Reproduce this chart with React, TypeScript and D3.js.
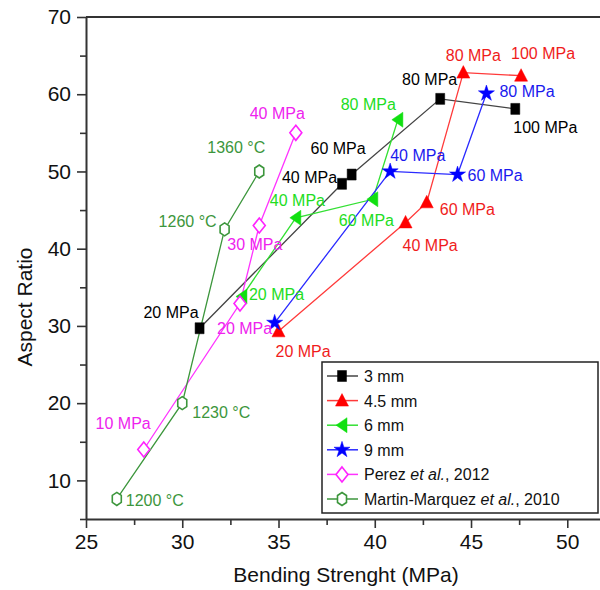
import React, { useEffect, useRef } from "react";
import * as d3 from "d3";

// values
const pressures = ["20 MPa", "40 MPa", "60 MPa", "80 MPa", "100 MPa"];

const bend3mm = [30.9, 38.3, 38.8, 43.4, 47.3];
const ratio3mm = [29.7, 48.4, 49.6, 59.4, 58.1];

const bend45mm = [35.0, 41.6, 42.7, 44.6, 47.6];
const ratio45mm = [29.3, 43.4, 46.0, 62.8, 62.4];

const bend6mm = [33.1, 35.9, 39.9, 41.2];
const ratio6mm = [33.8, 44.0, 46.4, 56.7];

const bend9mm = [34.8, 40.8, 44.3, 45.8];
const ratio9mm = [30.4, 50.0, 49.6, 60.1];
const labels9mm = ["", "40 MPa", "60 MPa", "80 MPa"];

const bendPerez = [28.0, 33.0, 34.0, 35.9];
const ratioPerez = [14.0, 32.9, 43.0, 55.0];
const labelsPerez = ["10 MPa", "20 MPa", "30 MPa", "40 MPa"];

const bendMartin = [26.6, 30.0, 32.2, 34.0];
const ratioMartin = [7.6, 20.0, 42.5, 50.0];
const labelsMartin = ["1200 °C", "1230 °C", "1260 °C", "1360 °C"];

const xTicks = [25, 30, 35, 40, 45, 50];
const xMinor = [27.5, 32.5, 37.5, 42.5, 47.5];
const yTicks = [10, 20, 30, 40, 50, 60, 70];
const yMinor = [5, 15, 25, 35, 45, 55, 65];

// label placement next to each point: [dx, dy, anchor]
const offs3mm = [[-1, -10, "end"], [-5, -1, "end"], [14, -21, "end"], [17, -14, "end"], [-2, 24, "start"]];
const offs45mm = [[-3, 26, "start"], [-3, 29, "start"], [13, 13, "start"], [10, -12, "middle"], [22, -17, "middle"]];
const offs6mm = [[7, 3, "start"], [-26, -12, "start"], [-34, 27, "start"], [-2, -10, "end"]];
const offs9mm = [[0, 0, "start"], [0, -10, "start"], [10, 6, "start"], [13, 4, "start"]];
const offsPerez = [[7, -20, "end"], [-23, 30, "start"], [-32, 24, "start"], [9, -14, "end"]];
const offsMartin = [[9, 7, "start"], [10, 15, "start"], [-8, -2, "end"], [6, -18, "end"]];

const FONT = "'Liberation Sans', Arial, Helvetica, sans-serif";

function markerPath(shape: string): string {
  if (shape === "square") return "M-4.5,-5.5H4.5V5.5H-4.5Z";
  if (shape === "triUp") return "M0,-7L6.5,5.5L-6.5,5.5Z";
  if (shape === "triLeft") return "M-6,0L5,-7.5L5,7.5Z";
  if (shape === "star") return d3.symbol(d3.symbolStar, 80)() as string;
  if (shape === "diamond") return "M0,-7.5L6,0L0,7.5L-6,0Z";
  return "M0,-6.5L4.5,-3.5L4.5,3.5L0,6.5L-4.5,3.5L-4.5,-3.5Z";
}

const series = [
  { name: "3 mm", xs: bend3mm, ys: ratio3mm, labels: pressures, offs: offs3mm, line: "#444", fill: "#000", stroke: "#000", text: "#000", shape: "square", hollow: false },
  { name: "4.5 mm", xs: bend45mm, ys: ratio45mm, labels: pressures, offs: offs45mm, line: "#ff3a3a", fill: "#ff0000", stroke: "#ff0000", text: "#f01c1c", shape: "triUp", hollow: false },
  { name: "6 mm", xs: bend6mm, ys: ratio6mm, labels: pressures, offs: offs6mm, line: "#33e033", fill: "#11e011", stroke: "#11e011", text: "#22dd22", shape: "triLeft", hollow: false },
  { name: "9 mm", xs: bend9mm, ys: ratio9mm, labels: labels9mm, offs: offs9mm, line: "#2a2aff", fill: "#0000ff", stroke: "#0000ff", text: "#1a1aee", shape: "star", hollow: false },
  { name: "Perez", xs: bendPerez, ys: ratioPerez, labels: labelsPerez, offs: offsPerez, line: "#ff33ff", fill: "#fff", stroke: "#ff22ff", text: "#ee22ee", shape: "diamond", hollow: true },
  { name: "Martin", xs: bendMartin, ys: ratioMartin, labels: labelsMartin, offs: offsMartin, line: "#3c963c", fill: "#fff", stroke: "#3c963c", text: "#3c963c", shape: "hex", hollow: true },
];

export default function App() {
  const ref = useRef<SVGSVGElement>(null);

  useEffect(() => {
    const width = 600;
    const height = 590;
    const left = 86;
    const top = 17;
    const bottom = 519;

    const svg = d3.select(ref.current);
    svg.selectAll("*").remove();
    svg.attr("width", width).attr("height", height);

    const x = d3.scaleLinear().domain([25, 51.7]).range([left, width]);
    const y = d3.scaleLinear().domain([5, 70]).range([bottom, top]);

    const axisColor = "#333";

    // top frame line
    svg.append("line")
      .attr("x1", left).attr("x2", width)
      .attr("y1", top).attr("y2", top)
      .attr("stroke", axisColor).attr("stroke-width", 2);

    // x axis
    const gx = svg.append("g").attr("transform", `translate(0,${bottom})`);
    gx.call(d3.axisBottom(x).tickValues(xTicks).tickSize(9).tickSizeOuter(0).tickPadding(6));
    gx.append("g").call(d3.axisBottom(x).tickValues(xMinor).tickSize(6).tickFormat(() => ""))
      .select(".domain").remove();

    // y axis
    const gy = svg.append("g").attr("transform", `translate(${left},0)`);
    gy.call(d3.axisLeft(y).tickValues(yTicks).tickSize(9).tickSizeOuter(0).tickPadding(6));
    gy.append("g").call(d3.axisLeft(y).tickValues(yMinor).tickSize(6).tickFormat(() => ""))
      .select(".domain").remove();

    svg.selectAll(".domain").attr("stroke", axisColor).attr("stroke-width", 2);
    svg.selectAll(".tick line").attr("stroke", axisColor).attr("stroke-width", 1.6);
    svg.selectAll(".tick text").attr("font-family", FONT).attr("font-size", 21).attr("fill", "#111");
    gx.selectAll(".tick text").attr("dy", "0.72em");

    // axis titles
    svg.append("text")
      .attr("x", 346).attr("y", 582)
      .attr("text-anchor", "middle")
      .attr("font-family", FONT).attr("font-size", 21).attr("fill", "#111")
      .text("Bending Strenght (MPa)");

    svg.append("text")
      .attr("transform", "translate(32,307) rotate(-90)")
      .attr("text-anchor", "middle")
      .attr("font-family", FONT).attr("font-size", 21).attr("fill", "#111")
      .text("Aspect Ratio");

    // connecting lines
    series.forEach(s => {
      const pts = s.xs.map((v, i) => [x(v), y(s.ys[i])] as [number, number]);
      svg.append("path")
        .attr("d", d3.line()(pts))
        .attr("fill", "none")
        .attr("stroke", s.line)
        .attr("stroke-width", 1.3);
    });

    // markers + point labels
    series.forEach(s => {
      s.xs.forEach((v, i) => {
        const px = x(v);
        const py = y(s.ys[i]);
        svg.append("path")
          .attr("d", markerPath(s.shape))
          .attr("transform", `translate(${px},${py})`)
          .attr("fill", s.hollow ? "#fff" : s.fill)
          .attr("stroke", s.stroke)
          .attr("stroke-width", s.hollow ? 1.6 : 0.5);

        if (s.labels[i]) {
          const o = s.offs[i];
          svg.append("text")
            .attr("x", px + (o[0] as number))
            .attr("y", py + (o[1] as number))
            .attr("text-anchor", o[2] as string)
            .attr("font-family", FONT).attr("font-size", 16)
            .attr("fill", s.text)
            .text(s.labels[i]);
        }
      });
    });

    // legend
    const lg = svg.append("g");
    lg.append("rect")
      .attr("x", 322).attr("y", 362)
      .attr("width", 276).attr("height", 151)
      .attr("fill", "#fff").attr("stroke", "#222").attr("stroke-width", 1.5);

    series.forEach((s, i) => {
      const ly = 376 + i * 24.6;
      lg.append("line")
        .attr("x1", 327).attr("x2", 358)
        .attr("y1", ly).attr("y2", ly)
        .attr("stroke", s.line).attr("stroke-width", 1.5);
      lg.append("path")
        .attr("d", markerPath(s.shape))
        .attr("transform", `translate(342,${ly})`)
        .attr("fill", s.hollow ? "#fff" : s.fill)
        .attr("stroke", s.stroke)
        .attr("stroke-width", s.hollow ? 1.6 : 0.5);
      const t = lg.append("text")
        .attr("x", 364).attr("y", ly + 6)
        .attr("font-family", FONT).attr("font-size", 16).attr("fill", "#111");
      if (s.name === "Perez" || s.name === "Martin") {
        t.append("tspan").text(s.name === "Perez" ? "Perez " : "Martin-Marquez ");
        t.append("tspan").attr("font-style", "italic").text("et al.");
        t.append("tspan").text(s.name === "Perez" ? ", 2012" : ", 2010");
      } else {
        t.text(s.name);
      }
    });
  }, []);

  return (
    <svg ref={ref} style={{ position: "absolute", left: 0, top: 0, background: "#fff" }} />
  );
}
